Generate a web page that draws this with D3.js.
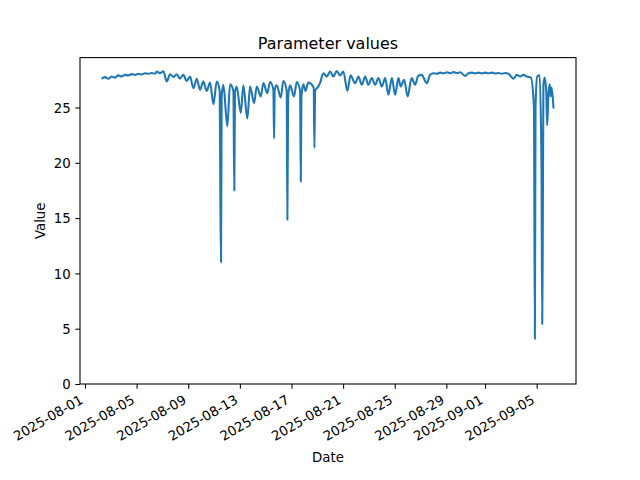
<!DOCTYPE html>
<html>
<head>
<meta charset="utf-8">
<script src="https://cdn.jsdelivr.net/npm/d3@7"></script>
<style>
html,body{margin:0;padding:0;background:#fff;}
svg{display:block;}
text{font-family:"DejaVu Sans",sans-serif;fill:#000;}
</style>
</head>
<body>
<svg id="chart" width="640" height="480"></svg>
<script>
// Days since 2025-08-01 00:00 UTC
const dayOffsets = [
1.36,1.55,1.81,2.07,2.33,2.58,2.84,3.10,3.36,3.62,3.88,4.13,4.40,4.65,4.91,5.17,5.43,5.56,5.81,6.07,
6.33,6.59,6.85,7.11,7.36,7.62,7.88,8.14,8.40,8.66,8.91,9.17,9.43,9.69,9.95,10.21,
10.44,10.49,10.54,10.59,10.72,11.03,11.24,11.50,11.57,11.62,11.76,12.07,12.27,12.58,12.79,
13.10,13.31,13.62,13.82,14.13,14.34,14.60,14.65,14.70,14.86,15.17,15.37,15.63,15.68,15.74,15.89,
16.20,16.41,16.67,16.72,16.77,16.92,17.08,17.31,17.72,17.78,17.83,18.08,18.21,18.47,18.74,18.99,
19.25,19.51,19.77,20.02,20.33,20.58,20.93,21.19,21.45,21.71,21.96,22.22,22.48,22.74,23.00,23.26,
23.51,23.78,24.03,24.29,24.46,24.73,25.00,25.31,25.58,25.82,26.08,26.49,26.74,27.00,27.26,27.52,
27.78,28.04,28.29,28.55,28.81,29.07,29.46,29.71,29.98,30.23,30.49,30.75,31.01,31.26,31.53,31.78,
32.04,32.30,32.56,32.81,32.95,33.20,33.46,33.72,33.98,34.24,34.55,34.79,34.86,34.91,35.04,35.23,
35.37,35.43,35.47,35.52,35.62,35.74,35.81,35.91,36.01,36.09,36.16,36.30
];
const values = [
27.65,27.75,27.6,27.8,27.7,27.9,27.8,27.95,27.9,28.02,27.95,28.05,27.98,28.1,28.05,28.12,28.05,28.26,28.1,28.28,
27.35,28.0,27.75,28.0,27.6,27.95,27.4,27.8,26.75,27.6,26.6,27.35,26.5,27.25,25.3,27.35,
26.5,16.8,11.0,26.0,27.05,23.3,27.1,26.5,17.5,26.3,26.9,24.5,27.0,24.0,26.9,
25.4,26.9,26.0,27.2,26.3,27.3,26.6,22.2,26.6,27.0,25.9,27.4,26.5,14.85,26.0,27.0,
26.0,27.3,26.5,18.3,26.0,27.1,26.5,27.25,26.8,21.35,26.5,26.9,27.2,28.1,27.8,28.25,
27.8,28.3,27.9,28.25,26.5,27.9,27.2,27.8,27.05,27.8,27.05,27.66,27.05,27.66,26.9,27.66,
26.15,27.66,26.15,27.66,26.9,27.5,26.0,27.66,27.05,27.85,27.95,27.2,27.95,28.1,28.05,28.15,
28.08,28.18,28.1,28.2,28.12,28.18,27.85,28.1,28.15,28.08,28.15,28.08,28.15,28.1,28.15,28.08,
28.12,28.05,28.12,28.05,27.9,27.6,27.95,27.8,27.95,27.8,27.7,25.0,4.08,25.0,27.8,27.9,
20.0,5.43,12.8,27.0,27.7,26.5,23.4,26.2,27.1,26.0,26.8,25.0
];
const xTickLabels = ["2025-08-01","2025-08-05","2025-08-09","2025-08-13","2025-08-17","2025-08-21","2025-08-25","2025-08-29","2025-09-01","2025-09-05"];
const yTickValues = [0,5,10,15,20,25];
const titleText = "Parameter values";
const xLabelText = "Date";
const yLabelText = "Value";

const base = Date.UTC(2025,7,1);
const data = dayOffsets.map((d,i)=>({date:new Date(base + d*864e5), value:values[i]}));

const L=80, R=576, T=57.6, B=384;
const svg = d3.select("#chart");

const tMin = d3.min(data,d=>d.date), tMax = d3.max(data,d=>d.date);
const span = tMax - tMin;
const x = d3.scaleUtc().domain([new Date(+tMin - 0.05*span), new Date(+tMax + 0.05*span)]).range([L,R]);
const vMin = d3.min(values), vMax = d3.max(values);
const y = d3.scaleLinear().domain([0, vMax + 0.05*(vMax - vMin)]).range([B,T]);

// line
const line = d3.line().curve(d3.curveMonotoneX).x(d=>x(d.date)).y(d=>y(d.value));
svg.append("path").datum(data)
  .attr("d", line)
  .attr("fill","none")
  .attr("stroke","#1f77b4")
  .attr("stroke-width",2.1)
  .attr("stroke-linejoin","round")
  .attr("stroke-linecap","square");

// spines
svg.append("rect").attr("x",L).attr("y",T).attr("width",R-L).attr("height",B-T)
  .attr("fill","none").attr("stroke","#000").attr("stroke-width",1.07);

// x axis
const parse = d3.utcParse("%Y-%m-%d");
const fmt = d3.utcFormat("%Y-%m-%d");
const xAxis = d3.axisBottom(x).tickValues(xTickLabels.map(parse)).tickFormat(fmt).tickSizeOuter(0).tickSize(4.67).tickPadding(4.67);
const gx = svg.append("g").attr("transform",`translate(0,${B})`).call(xAxis);
gx.select(".domain").remove();
gx.selectAll(".tick line").attr("stroke","#000").attr("stroke-width",1.07);
gx.selectAll(".tick text")
  .attr("font-family","DejaVu Sans").attr("font-size","13.33px").attr("fill","#000")
  .attr("text-anchor","end")
  .attr("dy",null)
  .attr("y",null)
  .attr("transform","translate(-1.5,18.4) rotate(-30)");

// y axis
const yAxis = d3.axisLeft(y).tickValues(yTickValues).tickFormat(d3.format("d")).tickSizeOuter(0).tickSize(4.67).tickPadding(4.67);
const gy = svg.append("g").attr("transform",`translate(${L},0)`).call(yAxis);
gy.select(".domain").remove();
gy.selectAll(".tick line").attr("stroke","#000").attr("stroke-width",1.07);
gy.selectAll(".tick text")
  .attr("font-family","DejaVu Sans").attr("font-size","13.33px").attr("fill","#000")
  .attr("dy","0.36em");

// title
svg.append("text").attr("x",(L+R)/2).attr("y",T-8.5).attr("text-anchor","middle")
  .attr("font-size","16px").text(titleText);
// x label
svg.append("text").attr("x",(L+R)/2).attr("y",462).attr("text-anchor","middle")
  .attr("font-size","13.33px").text(xLabelText);
// y label
svg.append("text").attr("transform",`translate(44.5,${(T+B)/2}) rotate(-90)`).attr("text-anchor","middle")
  .attr("font-size","13.33px").text(yLabelText);
</script>
</body>
</html>
